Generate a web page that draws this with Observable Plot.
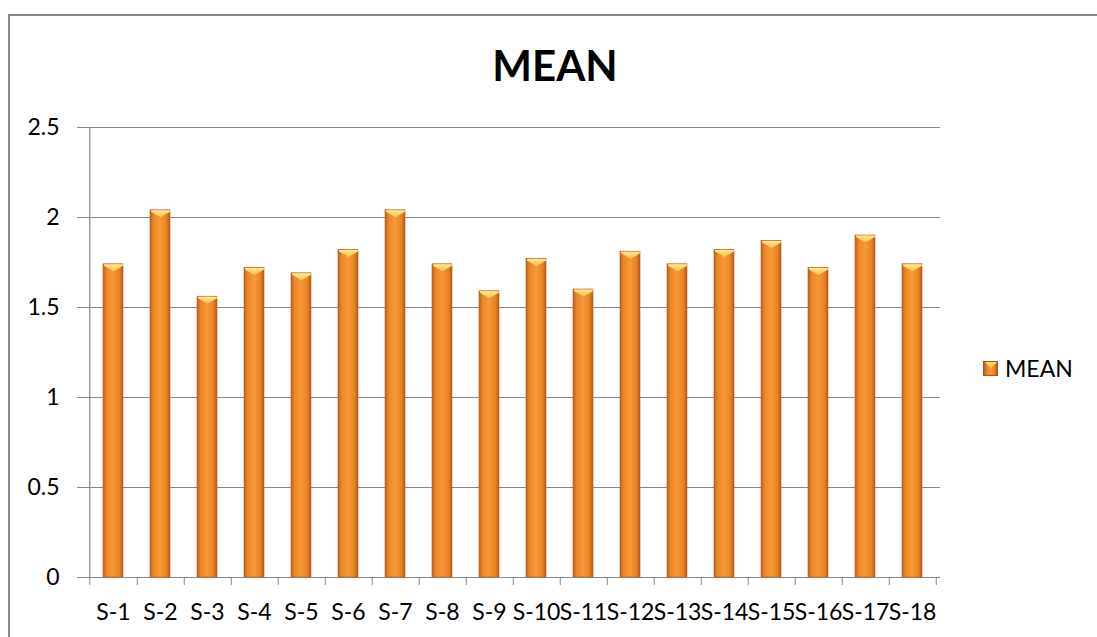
<!DOCTYPE html>
<html>
<head>
<meta charset="utf-8">
<script src="https://cdn.jsdelivr.net/npm/d3@7"></script>
<script src="https://cdn.jsdelivr.net/npm/@observablehq/plot@0.6"></script>
<style>
  html, body { margin: 0; padding: 0; background: #ffffff; }
  #wrap { position: relative; width: 1097px; height: 637px; overflow: hidden; font-family: Lato, "Open Sans", sans-serif; }
  #frame { position: absolute; left: 8px; top: 14px; width: 1200px; height: 700px;
           border-left: 2px solid #8a8a8a; border-top: 2px solid #8a8a8a; box-sizing: border-box; }
  #title { position: relative; height: 100px; width: 1097px; }
  #title span { position: absolute; left: 0; width: 1110px; top: 44px; text-align: center;
                font-size: 42px; font-weight: bold; line-height: 1; color: #000; }
  #legend { position: absolute; left: 983px; top: 357px; display: flex; align-items: center; }
  #legend .sw { width: 15px; height: 15px; position: relative; box-sizing: border-box;
                border: 1px solid #a9561a;
                background: linear-gradient(90deg, #c0621c 0%, #f08d2c 30%, #fa9b3a 55%, #e27e25 85%, #b85a18 100%); }
  #legend .sw::after { content: ""; position: absolute; left: 1px; top: 0; width: 0; height: 0;
                border-left: 6px solid transparent; border-right: 6px solid transparent; border-top: 6px solid #ffd35a; }
  #legend .lbl { margin-left: 7px; font-size: 23px; line-height: 1; color: #000; }
  #chart { position: relative; }
</style>
</head>
<body>
<div id="wrap">
  <div id="frame"></div>
  <div id="title"><span>MEAN</span></div>
  <div id="chart"></div>
  <div id="legend"><div class="sw"></div><div class="lbl">MEAN</div></div>
</div>
<script>
const categories = ["S-1","S-2","S-3","S-4","S-5","S-6","S-7","S-8","S-9","S-10","S-11","S-12","S-13","S-14","S-15","S-16","S-17","S-18"];
const meanValues = [1.74, 2.04, 1.56, 1.72, 1.69, 1.82, 2.04, 1.74, 1.59, 1.77, 1.60, 1.81, 1.74, 1.82, 1.87, 1.72, 1.90, 1.74];
const yTickValues = [0, 0.5, 1, 1.5, 2, 2.5];
const seriesName = "MEAN";

const data = categories.map((c, i) => ({cat: c, v: meanValues[i]}));

const W = 1097, H = 537;
const mL = 85, mR = 157, mT = 27, mB = 60;
const step = (W - mL - mR) / categories.length;
const gridColor = "#868686";

const capSymbol = {
  draw(ctx) {
    ctx.moveTo(-9.5, 0);
    ctx.lineTo(9.5, 0);
    ctx.lineTo(9.5, 1.5);
    ctx.lineTo(0, 7);
    ctx.lineTo(-9.5, 1.5);
    ctx.closePath();
  }
};

const chart = Plot.plot({
  width: W, height: H,
  marginLeft: mL, marginRight: mR, marginTop: mT, marginBottom: mB,
  style: {fontFamily: "Lato, 'Open Sans', sans-serif", fontSize: "23px", color: "#000", background: "transparent"},
  x: {domain: categories, paddingInner: 0.58, paddingOuter: 0.29, label: null},
  y: {domain: [0, 2.5], label: null},
  marks: [
    Plot.gridY(yTickValues, {stroke: gridColor, strokeOpacity: 1, strokeWidth: 1.2}),
    Plot.axisY(yTickValues, {tickSize: 8, tickPadding: 18, stroke: gridColor, strokeOpacity: 1, fontSize: 23, label: null, tickFormat: d => String(d)}),
    Plot.ruleY([0], {stroke: gridColor, strokeWidth: 1.2}),
    Plot.ruleX([categories[0]], {y1: 0, y2: 2.5, dx: -step / 2, stroke: gridColor, strokeWidth: 1.2}),
    Plot.axisX(categories, {tickSize: 8, tickFormat: () => "", dx: step / 2, stroke: gridColor, strokeOpacity: 1, label: null}),
    Plot.axisX([categories[0]], {tickSize: 8, tickFormat: () => "", dx: -step / 2, stroke: gridColor, strokeOpacity: 1, label: null}),
    Plot.axisX(categories, {tickSize: 0, tickPadding: 26, fontSize: 23, label: null}),
    Plot.barY(data, {x: "cat", y: "v", fill: "url(#barGrad)", stroke: "#b5601f", strokeWidth: 0.6}),
    Plot.dot(data, {x: "cat", y: "v", symbol: capSymbol, fill: "url(#capGrad)", stroke: "none"})
  ]
});

d3.select(chart).insert("defs", ":first-child").html(`
  <linearGradient id="barGrad" x1="0" y1="0" x2="1" y2="0">
    <stop offset="0%" stop-color="#bd5f1a"/>
    <stop offset="18%" stop-color="#e9872a"/>
    <stop offset="50%" stop-color="#f99836"/>
    <stop offset="82%" stop-color="#e78426"/>
    <stop offset="100%" stop-color="#b45716"/>
  </linearGradient>
  <linearGradient id="capGrad" x1="0" y1="0" x2="0" y2="1">
    <stop offset="0%" stop-color="#ffe79a"/>
    <stop offset="100%" stop-color="#ffc43d"/>
  </linearGradient>
`);

document.getElementById("chart").appendChild(chart);
</script>
</body>
</html>
